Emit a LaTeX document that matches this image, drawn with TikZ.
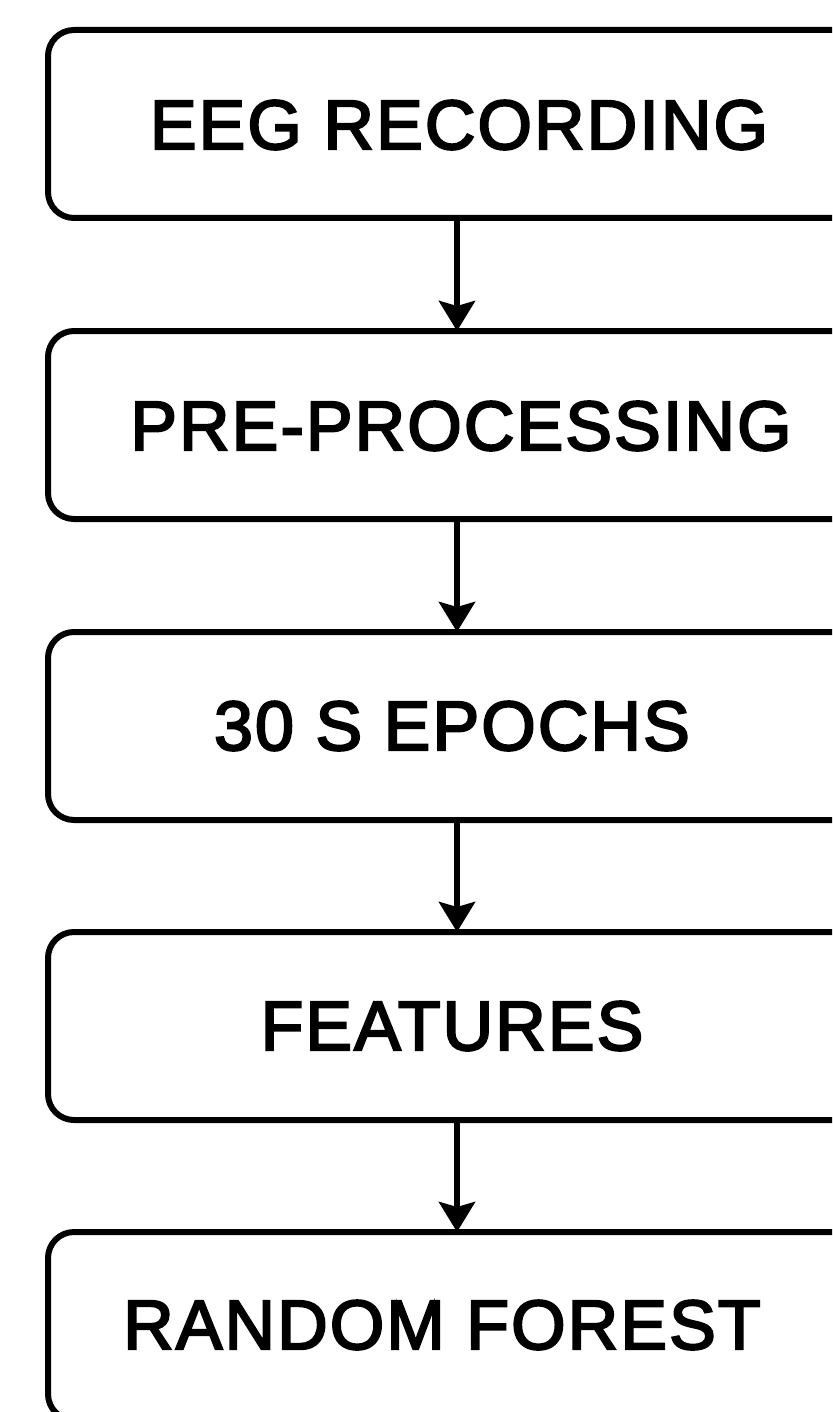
\documentclass[tikz,border=0pt]{standalone}
\usepackage{fontspec}
\setmainfont{Liberation Sans}
\newfontfamily\capfont{Liberation Sans}[FakeBold=3, LetterSpace=3]
\usetikzlibrary{arrows.meta}
\begin{document}
\begin{tikzpicture}[x=1pt,y=-1pt,
  stage/.style={draw=black, line width=6pt, rounded corners=26pt, minimum width=818pt, minimum height=188pt, inner sep=0pt, outer sep=0pt, anchor=north west},
  caption/.style={font=\capfont\fontsize{70}{84}\selectfont, inner sep=0pt, outer sep=0pt},
  flow/.style={line width=6pt, -{Stealth[length=30pt,width=36pt,inset=5pt]}}]
\useasboundingbox (0,0) rectangle (832,1412);
\clip (0,0) rectangle (832,1412);
\node[stage] (b1) at (48,30) {};
\node[stage] (b2) at (48,331) {};
\node[stage] (b3) at (48,632) {};
\node[stage] (b4) at (48,932) {};
\node[stage] (b5) at (48,1232) {};
\node[caption] (t1) at (459,125) {EEG RECORDING};
\node[caption] (t2) at (461,426) {PRE-PROCESSING};
\node[caption] (t3) at (452,726) {30 S EPOCHS};
\node[caption] (t4) at (452,1026) {FEATURES};
\node[caption] (t5) at (442,1325) {RANDOM FOREST};
\draw[flow] (b1.south) -- (b2.north);
\draw[flow] (b2.south) -- (b3.north);
\draw[flow] (b3.south) -- (b4.north);
\draw[flow] (b4.south) -- (b5.north);
\end{tikzpicture}
\end{document}
